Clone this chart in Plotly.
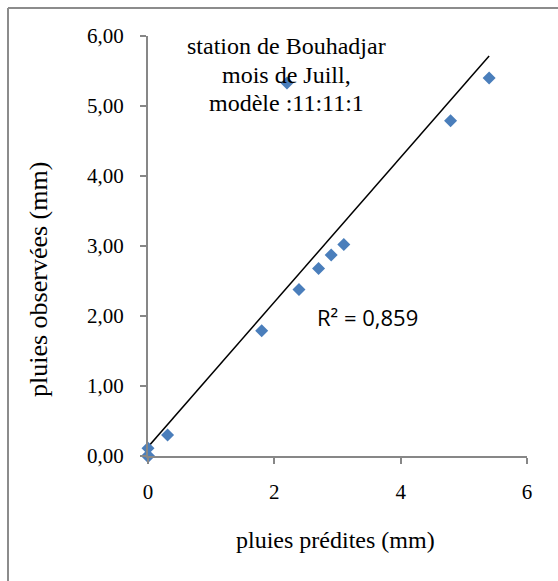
import numpy as np
import plotly.graph_objects as go

# Predicted vs observed July rainfall (mm), station de Bouhadjar, ANN 11:11:1
predites = [0, 0, 0, 0, 0, 0, 0, 0, 0.31, 1.80, 2.20, 2.39, 2.70, 2.90, 3.10, 4.79, 5.40]
observees = [0, 0, 0, 0, 0, 0, 0, 0.11, 0.30, 1.79, 5.33, 2.38, 2.68, 2.87, 3.02, 4.79, 5.40]

x_ticks = [0, 2, 4, 6]
y_ticks = [0, 1, 2, 3, 4, 5, 6]
y_tick_labels = ["0,00", "1,00", "2,00", "3,00", "4,00", "5,00", "6,00"]
r2_label = "R² = 0,859"
title_lines = ["station de Bouhadjar", "mois de Juill,", "modèle :11:11:1"]

# Least-squares linear trend line over the range of predictions
slope, intercept = np.polyfit(predites, observees, 1)
x_fit = np.array([min(predites), max(predites)])
y_fit = slope * x_fit + intercept

SERIF = "'Liberation Serif', 'Times New Roman', 'DejaVu Serif', serif"
AXIS_GREY = "#878787"

# plot-area pixel geometry (used to place paper-referenced annotations)
L, R, T, B = 148, 31, 36, 125
PW, PH = 558 - L - R, 581 - T - B


def px(xp):
    return (xp - L) / PW


def py(yp):
    return (581 - B - yp) / PH


fig = go.Figure()
fig.add_trace(go.Scatter(
    x=x_fit, y=y_fit, mode="lines",
    line=dict(color="black", width=1.5),
    hoverinfo="skip", cliponaxis=False,
))
fig.add_trace(go.Scatter(
    x=predites, y=observees, mode="markers",
    marker=dict(symbol="diamond", size=10, color="#4A7EBB"),
    cliponaxis=False,
))

fig.update_layout(
    width=558, height=581,
    margin=dict(l=L, r=R, t=T, b=B),
    plot_bgcolor="white", paper_bgcolor="white",
    showlegend=False,
    font=dict(family=SERIF, size=21, color="black"),
    xaxis=dict(
        range=[0, 6], tickvals=x_ticks, ticktext=[str(v) for v in x_ticks],
        showgrid=False, zeroline=False,
        showline=True, linecolor=AXIS_GREY, linewidth=2,
        ticks="outside", ticklen=6, tickwidth=2, tickcolor=AXIS_GREY,
        ticklabelstandoff=10, tickfont=dict(family=SERIF, size=21),
    ),
    yaxis=dict(
        range=[0, 6], tickvals=y_ticks, ticktext=y_tick_labels,
        showgrid=False, zeroline=False,
        showline=True, linecolor=AXIS_GREY, linewidth=2,
        ticks="outside", ticklen=6, tickwidth=2, tickcolor=AXIS_GREY,
        ticklabelstandoff=12, tickfont=dict(family=SERIF, size=21),
    ),
)

# Outer chart frame (left and top edges)
frame = dict(type="line", xref="paper", yref="paper",
             line=dict(color="#8C8C8C", width=2), layer="below")
fig.add_shape(x0=px(8), x1=px(8), y0=py(8), y1=py(620), **frame)
fig.add_shape(x0=px(8), x1=px(600), y0=py(8), y1=py(8), **frame)

# Three-line caption, one annotation per line for tight line spacing
for i, line in enumerate(title_lines):
    fig.add_annotation(
        text=line, xref="paper", yref="paper",
        x=px(286), y=py(46 + 28.5 * i), xanchor="center", yanchor="middle",
        showarrow=False, font=dict(family=SERIF, size=24, color="black"),
    )
fig.add_annotation(
    text=r2_label, xref="paper", yref="paper",
    x=px(367), y=py(317), xanchor="center", yanchor="middle",
    showarrow=False, font=dict(family="Open Sans", size=22, color="black"),
)
fig.add_annotation(
    text="pluies prédites (mm)", xref="paper", yref="paper",
    x=px(335), y=py(540), xanchor="center", yanchor="middle",
    showarrow=False, font=dict(family=SERIF, size=24, color="black"),
)
fig.add_annotation(
    text="pluies observées (mm)", xref="paper", yref="paper",
    x=px(38), y=py(280), xanchor="center", yanchor="middle",
    textangle=-90, showarrow=False, font=dict(family=SERIF, size=26, color="black"),
)

fig.write_html("out.html")
